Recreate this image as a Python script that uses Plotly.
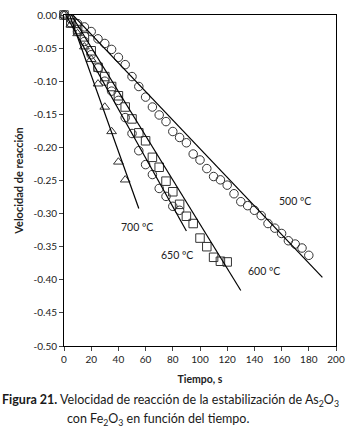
import plotly.graph_objects as go

# ---- data ----
t_500 = list(range(0, 181, 5))
v_500 = [0.0, -0.006, -0.013, -0.018, -0.025, -0.036, -0.043, -0.052, -0.064, -0.075,
         -0.093, -0.108, -0.124, -0.139, -0.151, -0.161, -0.176, -0.185, -0.193, -0.210,
         -0.219, -0.232, -0.244, -0.249, -0.257, -0.270, -0.282, -0.288, -0.295, -0.303,
         -0.315, -0.322, -0.330, -0.341, -0.346, -0.352, -0.363]

t_600 = list(range(0, 121, 5))
v_600 = [0.0, -0.012, -0.022, -0.033, -0.054, -0.079, -0.093, -0.108, -0.122, -0.139,
         -0.157, -0.178, -0.190, -0.215, -0.230, -0.251, -0.267, -0.286, -0.304, -0.315,
         -0.337, -0.350, -0.366, -0.372, -0.373]

t_650 = list(range(0, 86, 5))
v_650 = [0.0, -0.012, -0.025, -0.040, -0.060, -0.080, -0.100, -0.115, -0.129, -0.155,
         -0.179, -0.205, -0.226, -0.241, -0.262, -0.274, -0.289, -0.295]

t_700 = list(range(0, 46, 5))
v_700 = [0.0, -0.015, -0.028, -0.048, -0.067, -0.104, -0.139, -0.176, -0.222, -0.249]

# linear fits: (intercept, slope, end time)
fit_500 = (0.014, -0.00216, 190)
fit_600 = (0.018, -0.00334, 130)
fit_650 = (0.005, -0.00368, 90)
fit_700 = (0.024, -0.00575, 55)

labels = ["500 ºC", "600 ºC", "650 ºC", "700 ºC"]
label_pos = [(170, -0.281), (147, -0.386), (83, -0.363), (54, -0.3195)]

x_ticks = list(range(0, 201, 20))
y_ticks = [0.0, -0.05, -0.10, -0.15, -0.20, -0.25, -0.30, -0.35, -0.40, -0.45, -0.50]
y_ticktext = ["0.00", "-0.05", "-0.10", "-0.15", "-0.20", "-0.25", "-0.30", "-0.35",
              "-0.40", "-0.45", "-0.50"]

fig = go.Figure()

mk_color = "#333333"
for t, v, sym in [(t_500, v_500, "circle-open"), (t_650, v_650, "circle-open"),
                  (t_600, v_600, "square-open"), (t_700, v_700, "triangle-up-open")]:
    fig.add_trace(go.Scatter(x=t, y=v, mode="markers",
                             marker=dict(symbol=sym, size=8.5, color=mk_color,
                                         line=dict(width=1, color=mk_color)),
                             showlegend=False, cliponaxis=False))

for b, m, te in [fit_500, fit_600, fit_650, fit_700]:
    fig.add_trace(go.Scatter(x=[0, te], y=[b, b + m * te], mode="lines",
                             line=dict(color="black", width=1.2), showlegend=False))

font_lbl = "Lato, 'Open Sans', sans-serif"
for txt, (x, y) in zip(labels, label_pos):
    fig.add_annotation(x=x, y=y, text=txt, showarrow=False,
                       font=dict(family=font_lbl, size=10.5, color="#222"))

fig.add_annotation(xref="paper", yref="paper", x=-64/272, y=-56/338, xanchor="left",
                   yanchor="middle",
                   text="<b>Figura 21.</b> Velocidad de reacción de la estabilización de As<sub>2</sub>O<sub>3</sub>",
                   showarrow=False, font=dict(family=font_lbl, size=12.5, color="#1a1a1a"))
fig.add_annotation(xref="paper", yref="paper", x=(65-64)/272, y=-75/338, xanchor="left",
                   yanchor="middle",
                   text="con Fe<sub>2</sub>O<sub>3</sub> en función del tiempo.",
                   showarrow=False, font=dict(family=font_lbl, size=12.5, color="#1a1a1a"))

fig.update_layout(
    width=354, height=432,
    margin=dict(l=64, r=18, t=8, b=86),
    plot_bgcolor="white", paper_bgcolor="white",
    font=dict(family=font_lbl, size=10, color="#222"),
)
fig.update_xaxes(range=[0, 200], tickvals=x_ticks, ticks="outside", ticklen=4,
                 showline=True, mirror=True, linecolor="black", linewidth=1,
                 showgrid=False, zeroline=False,
                 title=dict(text="<b>Tiempo, s</b>", font=dict(size=10.5), standoff=11))
fig.update_yaxes(range=[-0.5, 0], tickvals=y_ticks, ticktext=y_ticktext, ticks="outside",
                 ticklen=4, showline=True, mirror=True, linecolor="black", linewidth=1,
                 showgrid=False, zeroline=False,
                 title=dict(text="<b>Velocidad de reacción</b>", font=dict(size=11), standoff=7))

fig.write_html("out.html")
